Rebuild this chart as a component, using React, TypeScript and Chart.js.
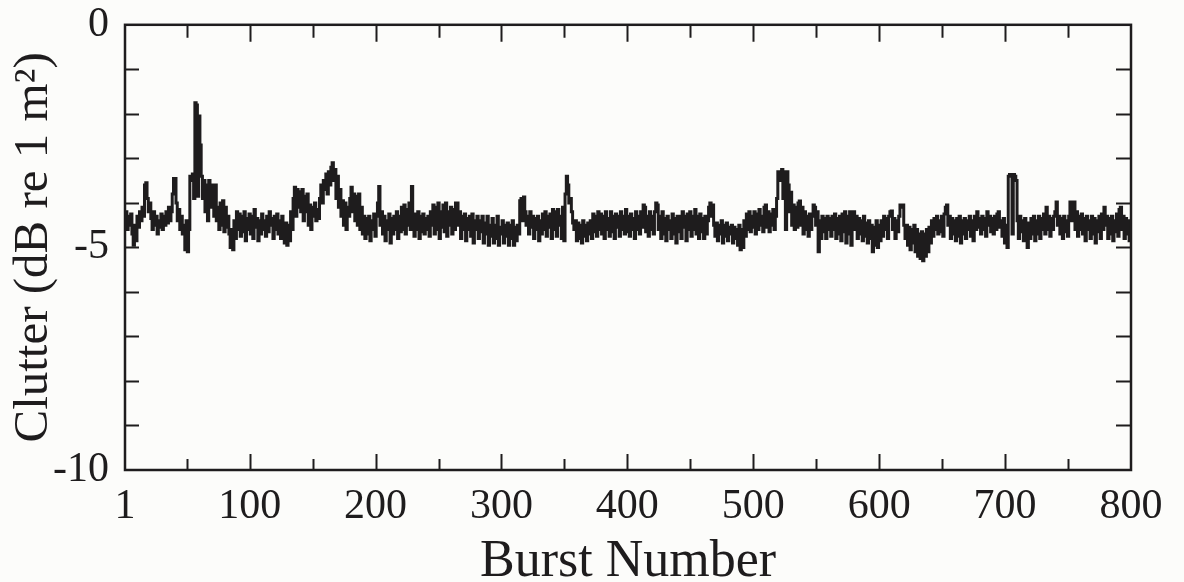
import React, { useEffect, useRef } from "react";
import { Chart, registerables } from "chart.js";

Chart.register(...registerables);

// Clutter (dB re 1 m^2) per burst
const clutter001_100 = [
  -4.4, -4.2, -4.6, -4.3, -4.5, -4.25, -4.7, -4.95, -4.5, -4.85, -4.3, -4.55, -4.2, -4.4, -4.1, -4.3, -3.6, -3.55, -3.9, -4.2,
  -4.0, -4.35, -4.6, -4.2, -4.5, -4.3, -4.7, -4.4, -4.55, -4.25, -4.6, -4.3, -4.5, -4.2, -4.45, -4.1, -4.4, -4.2, -3.8, -3.45,
  -3.45, -4.0, -4.4, -4.15, -4.6, -4.3, -4.7, -4.5, -5.05, -4.4, -5.1, -4.6, -3.4, -3.5, -3.35, -3.9, -1.75, -1.8, -3.85, -2.05,
  -2.7, -3.4, -3.9, -3.5, -4.2, -3.6, -4.4, -3.5, -4.1, -3.6, -3.9, -4.3, -3.6, -4.4, -4.1, -4.6, -4.0, -4.5, -3.95, -4.65,
  -4.1, -4.55, -4.3, -4.7, -5.0, -4.6, -5.05, -4.4, -4.8, -4.2, -4.6, -4.25, -4.75, -4.3, -4.65, -4.2, -4.85, -4.35, -4.6, -4.25,
];
const clutter101_200 = [
  -4.7, -4.3, -4.8, -4.15, -4.55, -4.35, -4.85, -4.4, -4.7, -4.25, -4.6, -4.4, -4.75, -4.3, -4.65, -4.2, -4.5, -4.35, -4.8, -4.3,
  -4.6, -4.25, -4.7, -4.4, -4.8, -4.3, -4.65, -4.9, -4.45, -4.95, -4.5, -4.85, -4.2, -4.6, -3.9, -3.65, -4.3, -3.7, -4.1, -3.75,
  -4.2, -3.7, -4.4, -3.85, -4.2, -3.8, -4.5, -4.05, -4.6, -4.1, -4.3, -4.0, -4.4, -4.15, -4.35, -3.9, -3.6, -4.0, -3.5, -3.7,
  -3.35, -3.8, -3.3, -3.6, -3.2, -3.1, -3.5, -3.25, -3.9, -3.4, -4.1, -3.7, -4.3, -3.95, -4.5, -4.0, -4.6, -4.1, -4.3, -3.9,
  -3.65, -4.2, -3.8, -4.4, -3.85, -4.5, -3.8, -4.6, -4.1, -4.7, -4.3, -4.8, -4.35, -4.7, -4.3, -4.85, -4.4, -4.6, -4.25, -4.75,
];
const clutter201_300 = [
  -4.3, -4.0, -3.63, -4.5, -4.2, -4.7, -4.3, -4.85, -4.4, -4.6, -4.25, -4.9, -4.35, -4.7, -4.3, -4.6, -4.2, -4.8, -4.3, -4.65,
  -4.1, -4.6, -4.05, -4.7, -4.15, -4.5, -4.0, -4.6, -3.63, -4.3, -4.75, -4.25, -4.6, -4.2, -4.8, -4.3, -4.65, -4.25, -4.7, -4.35,
  -4.6, -4.3, -4.75, -4.2, -4.5, -4.05, -4.7, -4.1, -4.6, -4.0, -4.8, -4.2, -4.55, -4.05, -4.65, -4.0, -4.75, -4.2, -4.5, -4.1,
  -4.7, -4.15, -4.6, -4.0, -4.0, -4.5, -4.2, -4.8, -4.3, -4.6, -4.25, -4.85, -4.35, -4.6, -4.3, -4.75, -4.25, -4.9, -4.4, -4.6,
  -4.3, -4.8, -4.4, -4.65, -4.3, -4.9, -4.45, -4.7, -4.3, -4.95, -4.5, -4.75, -4.35, -4.9, -4.5, -4.8, -4.3, -4.95, -4.55, -4.7,
];
const clutter301_400 = [
  -4.4, -4.9, -4.5, -4.75, -4.45, -4.95, -4.5, -4.8, -4.4, -4.95, -4.55, -4.85, -4.5, -4.7, -3.95, -3.9, -4.4, -3.87, -4.2, -4.5,
  -4.3, -4.7, -4.2, -4.55, -4.3, -4.8, -4.35, -4.6, -4.3, -4.85, -4.4, -4.7, -4.25, -4.6, -4.2, -4.75, -4.3, -4.55, -4.25, -4.8,
  -4.15, -4.6, -4.2, -4.75, -4.15, -4.5, -4.3, -4.8, -4.1, -4.85, -3.8, -3.4, -3.6, -4.0, -3.9, -4.2, -4.45, -4.6, -4.4, -4.85,
  -4.45, -4.8, -4.5, -4.9, -4.4, -4.75, -4.5, -4.85, -4.45, -4.7, -4.4, -4.8, -4.25, -4.65, -4.3, -4.75, -4.2, -4.6, -4.25, -4.7,
  -4.3, -4.8, -4.2, -4.6, -4.35, -4.75, -4.2, -4.65, -4.3, -4.8, -4.25, -4.55, -4.3, -4.75, -4.2, -4.6, -4.3, -4.7, -4.15, -4.65,
];
const clutter401_500 = [
  -4.3, -4.75, -4.25, -4.6, -4.35, -4.8, -4.2, -4.6, -4.3, -4.7, -4.2, -4.55, -4.05, -4.1, -4.65, -4.3, -4.75, -4.2, -4.6, -4.3,
  -4.7, -4.2, -4.0, -4.05, -4.6, -4.3, -4.8, -4.2, -4.7, -4.35, -4.85, -4.3, -4.6, -4.4, -4.8, -4.25, -4.7, -4.35, -4.9, -4.3,
  -4.65, -4.3, -4.8, -4.2, -4.55, -4.3, -4.85, -4.25, -4.6, -4.2, -4.75, -4.3, -4.6, -4.15, -4.7, -4.3, -4.8, -4.25, -4.65, -4.35,
  -4.8, -4.3, -4.7, -4.4, -4.1, -4.0, -4.3, -4.05, -4.5, -4.75, -4.45, -4.85, -4.5, -4.7, -4.4, -4.9, -4.5, -4.75, -4.45, -4.85,
  -4.55, -4.7, -4.5, -4.9, -4.55, -4.8, -4.6, -4.95, -4.5, -5.05, -4.6, -5.0, -4.4, -4.75, -4.25, -4.6, -4.2, -4.65, -4.3, -4.55,
];
const clutter501_600 = [
  -4.2, -4.7, -4.25, -4.6, -4.15, -4.5, -4.3, -4.65, -4.1, -4.05, -4.55, -4.2, -4.65, -4.25, -4.5, -4.15, -4.6, -4.3, -3.9, -3.3,
  -3.3, -3.5, -3.25, -3.9, -3.3, -4.6, -3.3, -3.6, -4.2, -3.76, -4.5, -4.05, -4.6, -4.1, -4.55, -4.0, -3.96, -4.5, -4.1, -4.7,
  -4.2, -4.6, -4.3, -4.75, -4.25, -4.6, -4.3, -4.05, -4.1, -4.5, -4.2, -5.1, -4.4, -4.8, -4.3, -4.65, -4.35, -4.8, -4.3, -4.6,
  -4.35, -4.75, -4.3, -4.6, -4.25, -4.8, -4.35, -4.7, -4.3, -4.85, -4.25, -4.65, -4.2, -4.9, -4.3, -4.7, -4.2, -4.95, -4.25, -4.2,
  -4.6, -4.3, -4.8, -4.35, -4.7, -4.4, -4.85, -4.3, -4.75, -4.45, -4.9, -4.4, -4.8, -4.5, -5.1, -4.55, -4.95, -4.4, -5.0, -4.5,
];
const clutter601_700 = [
  -4.85, -4.4, -4.75, -4.3, -4.6, -4.35, -4.8, -4.3, -4.2, -4.18, -4.6, -4.35, -4.8, -4.4, -4.65, -4.3, -4.05, -4.1, -4.05, -4.5,
  -4.8, -4.5, -4.95, -4.55, -5.05, -4.6, -4.9, -4.5, -5.1, -4.6, -5.2, -4.7, -5.25, -4.65, -5.3, -4.7, -5.2, -4.6, -5.1, -4.55,
  -4.9, -4.4, -4.75, -4.35, -4.6, -4.3, -4.7, -4.4, -4.65, -4.3, -4.75, -4.25, -4.1, -4.05, -4.5, -4.3, -4.8, -4.35, -4.7, -4.4,
  -4.85, -4.35, -4.75, -4.3, -4.9, -4.4, -4.7, -4.35, -4.8, -4.4, -4.6, -4.3, -4.75, -4.4, -4.85, -4.3, -4.6, -4.2, -4.55, -4.35,
  -4.7, -4.3, -4.6, -4.35, -4.75, -4.2, -4.5, -4.3, -4.65, -4.35, -4.7, -4.3, -4.6, -4.25, -4.2, -4.55, -4.4, -4.75, -4.35, -4.9,
];
const clutter701_800 = [
  -4.5, -5.0, -3.4, -3.36, -3.4, -4.7, -3.36, -3.4, -3.5, -4.4, -4.8, -4.3, -4.65, -4.4, -4.85, -4.35, -4.7, -5.0, -4.45, -4.8,
  -4.35, -4.7, -4.3, -4.85, -4.4, -4.7, -4.3, -4.8, -4.35, -4.6, -4.25, -4.7, -4.1, -4.6, -4.3, -4.75, -4.35, -4.6, -4.3, -4.2,
  -3.98, -4.5, -4.3, -4.7, -4.35, -4.8, -4.3, -4.65, -4.4, -4.75, -4.3, -3.98, -4.4, -4.1, -3.98, -4.6, -4.2, -4.75, -4.3, -4.6,
  -4.25, -4.7, -4.35, -4.85, -4.3, -4.6, -4.4, -4.8, -4.3, -4.7, -4.35, -4.9, -4.4, -4.65, -4.3, -4.8, -4.25, -4.6, -4.1, -4.5,
  -4.3, -4.8, -4.35, -4.7, -4.3, -4.85, -4.4, -4.65, -4.25, -4.75, -4.15, -4.1, -4.6, -4.3, -4.8, -4.35, -4.7, -4.4, -4.85, -4.5,
];

const clutter = [
  ...clutter001_100, ...clutter101_200, ...clutter201_300, ...clutter301_400,
  ...clutter401_500, ...clutter501_600, ...clutter601_700, ...clutter701_800,
];

const xLabelTicks = [1, 100, 200, 300, 400, 500, 600, 700, 800];
const xMinorTicks = [50, 150, 250, 350, 450, 550, 650, 750];
const yTicks = [0, -1, -2, -3, -4, -5, -6, -7, -8, -9, -10];
const yLabelTicks = [0, -5, -10];

const xTitle = "Burst Number";
const yTitle = "Clutter (dB re 1 m\u00B2)";

const INK = "#1e1c1d";
const BG = "#fcfcfa";
const FONT = "'Liberation Serif', 'Times New Roman', serif";

const framePlugin = {
  id: "frame",
  beforeDraw(chart: any) {
    const ctx = chart.ctx;
    ctx.save();
    ctx.fillStyle = BG;
    ctx.fillRect(0, 0, chart.width, chart.height);
    ctx.restore();
  },
  afterDraw(chart: any) {
    const { ctx, chartArea, scales } = chart;
    const { left, right, top, bottom } = chartArea;
    const x = scales.x;
    const y = scales.y;
    ctx.save();
    ctx.strokeStyle = INK;
    ctx.lineWidth = 2.5;
    ctx.strokeRect(left, top, right - left, bottom - top);
    ctx.lineWidth = 2;
    ctx.beginPath();
    for (const v of xLabelTicks) {
      if (v === 1 || v === 800) continue;
      const px = Math.round(x.getPixelForValue(v)) + 0.5;
      ctx.moveTo(px, bottom);
      ctx.lineTo(px, bottom - 16);
      ctx.moveTo(px, top);
      ctx.lineTo(px, top + 17);
    }
    for (const v of xMinorTicks) {
      const px = Math.round(x.getPixelForValue(v)) + 0.5;
      ctx.moveTo(px, bottom);
      ctx.lineTo(px, bottom - 11);
      ctx.moveTo(px, top);
      ctx.lineTo(px, top + 13);
    }
    for (const v of yTicks) {
      if (v === 0 || v === -10) continue;
      const py = Math.round(y.getPixelForValue(v)) + 0.5;
      ctx.moveTo(left, py);
      ctx.lineTo(left + 14, py);
      ctx.moveTo(right, py);
      ctx.lineTo(right - 15, py);
    }
    ctx.stroke();

    ctx.fillStyle = INK;
    ctx.font = `52px ${FONT}`;
    ctx.textAlign = "center";
    ctx.textBaseline = "alphabetic";
    ctx.fillText(xTitle, (left + right) / 2, 576);

    ctx.save();
    ctx.translate(47, (top + bottom) / 2);
    ctx.rotate(-Math.PI / 2);
    ctx.font = `49px ${FONT}`;
    ctx.fillText(yTitle, 0, 0);
    ctx.restore();
    ctx.restore();
  },
};

export default function App() {
  const canvasRef = useRef<HTMLCanvasElement | null>(null);

  useEffect(() => {
    document.body.style.margin = "0";
    const canvas = canvasRef.current;
    if (!canvas) return;
    const chart = new Chart(canvas, {
      type: "line",
      data: {
        datasets: [
          {
            data: clutter.map((v, i) => ({ x: i + 1, y: v })),
            borderColor: INK,
            borderWidth: 3,
            stepped: "middle",
            pointRadius: 0,
            fill: false,
          },
        ],
      },
      options: {
        animation: false,
        responsive: true,
        maintainAspectRatio: false,
        layout: { padding: { top: 18, right: 53, left: 0, bottom: 0 } },
        plugins: {
          legend: { display: false },
          tooltip: { enabled: false },
        },
        scales: {
          x: {
            type: "linear",
            min: 1,
            max: 800,
            afterBuildTicks: (scale: any) => {
              scale.ticks = [...xLabelTicks, ...xMinorTicks]
                .sort((a, b) => a - b)
                .map((value) => ({ value }));
            },
            afterFit: (scale: any) => {
              scale.height = 112;
            },
            ticks: {
              autoSkip: false,
              maxRotation: 0,
              padding: 4,
              color: INK,
              font: { family: FONT, size: 42 },
              callback: (v: any) => (xLabelTicks.includes(Number(v)) ? String(v) : ""),
            },
            grid: { display: false },
            border: { display: false },
          },
          y: {
            type: "linear",
            min: -10,
            max: 0,
            afterBuildTicks: (scale: any) => {
              scale.ticks = yTicks.map((value) => ({ value }));
            },
            afterFit: (scale: any) => {
              scale.width = 125;
            },
            ticks: {
              autoSkip: false,
              padding: 8,
              color: INK,
              font: { family: FONT, size: 42, lineHeight: 0.8 },
              callback: (v: any) => (yLabelTicks.includes(Number(v)) ? String(v) : ""),
            },
            grid: { display: false },
            border: { display: false },
          },
        },
      },
      plugins: [framePlugin],
    });
    return () => chart.destroy();
  }, []);

  return (
    <div style={{ position: "relative", width: 1184, height: 582 }}>
      <canvas ref={canvasRef} />
    </div>
  );
}
